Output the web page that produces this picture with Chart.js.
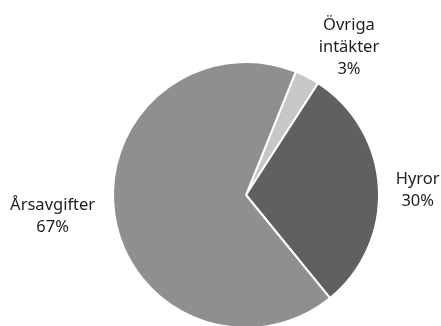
<!DOCTYPE html>
<html>
<head>
<meta charset="utf-8">
<script src="https://cdn.jsdelivr.net/npm/chart.js@4.4.0/dist/chart.umd.min.js"></script>
<style>
  html, body { margin: 0; padding: 0; background: #fff; overflow: hidden; }
  #wrap { position: relative; width: 441px; height: 340px; }
</style>
</head>
<body>
<div id="wrap"><canvas id="myChart" width="441" height="340"></canvas></div>
<script>
// data
const labels = [['Övriga', 'intäkter'], ['Hyror'], ['Årsavgifter']];
const shares = [3, 30, 67];
const colors = ['#c6c8c8', '#5f6161', '#8e9090'];

// small text nudges (px) so the labels sit like the original
const labelNudge = [[20, 15], [0, 5], [-3, -4]];

const outsideLabels = {
  id: 'outsideLabels',
  afterDatasetsDraw(chart) {
    const ctx = chart.ctx;
    const meta = chart.getDatasetMeta(0);
    ctx.save();
    ctx.font = '16.5px "Noto Sans", sans-serif';
    ctx.fillStyle = '#1e1e1e';
    ctx.textAlign = 'center';
    ctx.textBaseline = 'middle';
    const lh = 22;
    meta.data.forEach((arc, i) => {
      const p = arc.getProps(['x', 'y', 'startAngle', 'endAngle', 'outerRadius'], true);
      const mid = (p.startAngle + p.endAngle) / 2;
      const lines = labels[i].concat([shares[i] + '%']);
      let w = 0;
      lines.forEach(l => { w = Math.max(w, ctx.measureText(l).width); });
      const h = lines.length * lh;
      const dx = Math.cos(mid), dy = Math.sin(mid);
      const r = p.outerRadius + 17;
      const cx = p.x + dx * r + dx * w / 2 + labelNudge[i][0];
      const cy = p.y + dy * r + dy * h / 2 + labelNudge[i][1];
      lines.forEach((l, k) => {
        ctx.fillText(l, cx, cy - h / 2 + lh / 2 + k * lh);
      });
    });
    ctx.restore();
  }
};

new Chart(document.getElementById('myChart'), {
  type: 'pie',
  data: {
    labels: labels.map(l => l.join(' ')),
    datasets: [{
      data: shares,
      backgroundColor: colors,
      borderColor: '#fff',
      borderWidth: 2
    }]
  },
  options: {
    responsive: false,
    animation: false,
    rotation: 22,
    layout: { padding: { left: 112, right: 61, top: 61, bottom: 11 } },
    plugins: {
      legend: { display: false },
      tooltip: { enabled: false }
    }
  },
  plugins: [outsideLabels]
});
</script>
</body>
</html>
